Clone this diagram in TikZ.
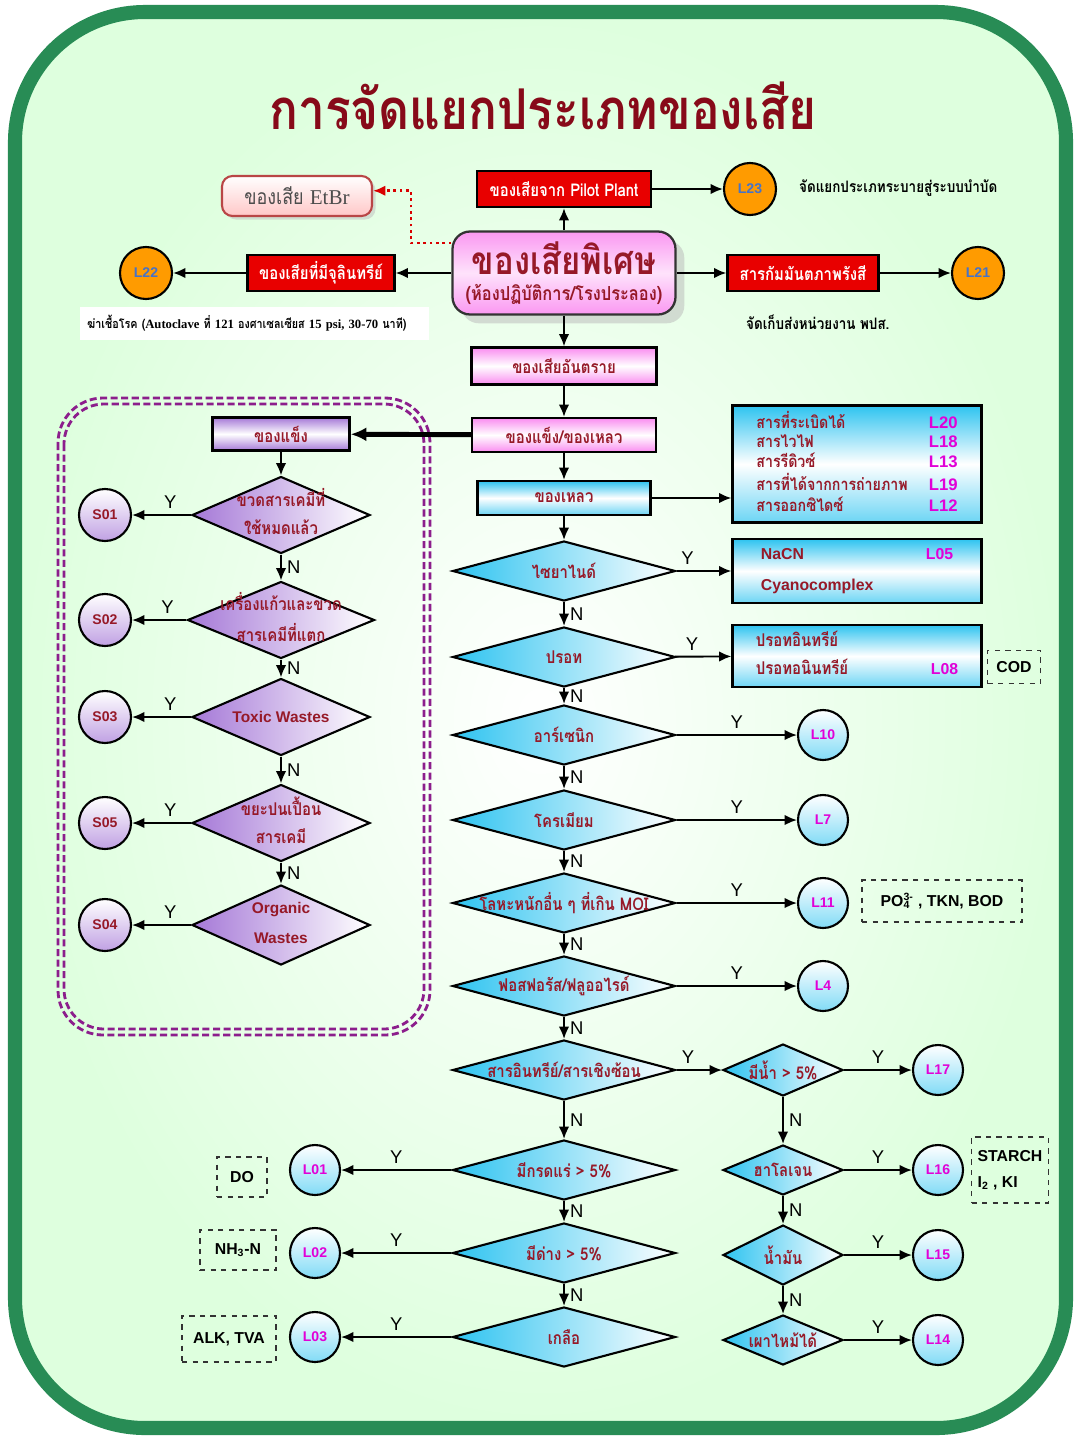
\documentclass[tikz,border=0pt]{standalone}
\usepackage{fontspec}
\setmainfont{Liberation Sans}
\newfontfamily\thai[Script=Thai,FakeStretch=0.85]{Loma}
\newfontfamily\timesf{Liberation Serif}
\usetikzlibrary{shapes.geometric,shadows,arrows.meta}

\definecolor{framegreen}{RGB}{40,140,85}
\definecolor{titlered}{RGB}{135,10,25}
\definecolor{txtred}{RGB}{150,25,40}
\definecolor{boxred}{RGB}{232,0,0}
\definecolor{liq}{RGB}{45,195,240}
\definecolor{sol}{RGB}{165,120,215}
\definecolor{pinkm}{RGB}{250,140,240}
\definecolor{codemag}{RGB}{225,0,215}
\definecolor{orng}{RGB}{255,155,0}
\definecolor{ltblue}{RGB}{70,115,200}
\definecolor{dashpurple}{RGB}{140,30,140}

\newcommand{\pxu}{0.02cm}
\newcommand{\dtext}[1]{\makebox[0pt]{#1}}
\newcommand{\lat}{\normalfont\bfseries}

\begin{document}
\begin{tikzpicture}[x=0.02cm,y=-0.02cm,>={Latex[length=7pt,width=6pt]},
  every node/.style={font=\thai\bfseries\fontsize{10}{12}\selectfont,text=txtred},
  arr/.style={->,line width=1.1pt},
  yn/.style={font=\fontsize{10.5}{12}\selectfont,text=black,inner sep=3pt},
  redbox/.style={draw=black,line width=1.3pt,fill=boxred,text=white,minimum height=36*\pxu},
  pinkbox/.style={draw=black,line width=1.3pt,top color=pinkm,bottom color=pinkm,middle color=white},
  bluebox/.style={draw=black,line width=1.3pt,top color=liq,bottom color=liq!70,middle color=white},
  purbox/.style={draw=black,line width=1.3pt,top color=sol,bottom color=sol,middle color=white},
  liqdia/.style={diamond,draw=black,line width=1.2pt,inner sep=0pt,left color=liq,right color=white,minimum width=223*\pxu,minimum height=60*\pxu},
  soldia/.style={diamond,draw=black,line width=1.2pt,inner sep=0pt,left color=sol,right color=white,minimum width=178*\pxu,minimum height=77*\pxu},
  lcirc/.style={circle,draw=black,line width=1.2pt,inner sep=0pt,minimum size=50*\pxu,top color=white,bottom color=liq!60,text=codemag,font=\bfseries\fontsize{8}{10}\selectfont},
  scirc/.style={circle,draw=black,line width=1.2pt,inner sep=0pt,minimum size=52*\pxu,top color=white,bottom color=sol!70,text=txtred,font=\bfseries\fontsize{8}{10}\selectfont},
  ocirc/.style={circle,draw=black,line width=1.2pt,inner sep=0pt,minimum size=52*\pxu,fill=orng,text=ltblue,font=\bfseries\fontsize{8}{10}\selectfont},
  dbox/.style={draw=black!80,dashed,line width=1pt,text=black,font=\bfseries\fontsize{9}{11}\selectfont},
  note/.style={text=black,font=\thai\bfseries\fontsize{9}{11}\selectfont,anchor=west}]

  \useasboundingbox (0,0) rectangle (1073,1437);
  \fill[white] (0,0) rectangle (1073,1437);
  \begin{scope}
    \clip (0,0) rectangle (1073,1437);
    \shade[inner color=white,outer color=green!13,rounded corners=2.6cm] (15,12) rectangle (1066,1428);
    \draw[framegreen,line width=8pt,rounded corners=2.6cm] (15,12) rectangle (1066,1428);
  \end{scope}
  \draw[dashpurple,line width=1.6pt,dash pattern=on 4pt off 2pt,rounded corners=0.9cm] (58,398) rectangle (430,1035);
  \draw[dashpurple,line width=1.6pt,dash pattern=on 4pt off 2pt,rounded corners=0.8cm] (64,404) rectangle (424,1029);

  \node[font=\thai\bfseries\fontsize{32}{36}\selectfont,text=titlered] (title) at (543,106) {การจัดแยกประเภทของเสีย};

  \node[draw=red!45!gray,line width=1.2pt,rounded corners=6pt,top color=white,bottom color=red!22,minimum width=150*\pxu,minimum height=40*\pxu,text=black!70,font=\thai\fontsize{12}{14}\selectfont,drop shadow={shadow xshift=2pt,shadow yshift=-2pt,fill=gray!50}] (etbr) at (297,196) {ของเสีย {\timesf EtBr}};
  \node[redbox,minimum width=174*\pxu] (pilot) at (564,189) {ของเสียจาก Pilot Plant};
  \node[ocirc] (l23) at (750,189) {L23};
  \node[note] (l23note) at (793,188) {จัดแยกประเภทระบายสู่ระบบบำบัด};
  \node[draw=black!80,line width=1.3pt,rounded corners=10pt,top color=pinkm!90,bottom color=pinkm!90,middle color=pinkm!25,minimum width=223*\pxu,minimum height=83*\pxu,align=center,drop shadow={shadow xshift=5pt,shadow yshift=-5pt,fill=gray!55}] (main) at (564,273) {{\fontsize{22}{24}\selectfont ของเสียพิเศษ}\\[3pt]{\fontsize{11}{13}\selectfont (ห้องปฏิบัติการ/โรงประลอง)}};
  \node[redbox,minimum width=147*\pxu] (micro) at (321,273) {ของเสียที่มีจุลินทรีย์};
  \node[ocirc] (l22) at (146,273) {L22};
  \node[fill=white,anchor=west,text width=6.7cm,align=left,minimum height=33*\pxu,inner xsep=0.14cm,text=black,font=\thai\bfseries\fontsize{7.2}{9}\selectfont] (autoclave) at (80,323) {ฆ่าเชื้อโรค ({\timesf\bfseries Autoclave} ที่ {\timesf\bfseries 121} องศาเซลเซียส {\timesf\bfseries 15 psi, 30-70} นาที)};
  \node[redbox,minimum width=151*\pxu] (radio) at (803,273) {สารกัมมันตภาพรังสี};
  \node[ocirc] (l21) at (978,273) {L21};
  \node[note] (radionote) at (740,322) {จัดเก็บส่งหน่วยงาน พปส.};

  \node[pinkbox,minimum width=185*\pxu,minimum height=37*\pxu] (haz) at (564,366) {ของเสียอันตราย};
  \node[pinkbox,minimum width=184*\pxu,minimum height=34*\pxu] (sl) at (564,435) {ของแข็ง/ของเหลว};
  \node[bluebox,minimum width=173*\pxu,minimum height=34*\pxu] (liquid) at (564,498) {ของเหลว};
  \node[bluebox,minimum width=249*\pxu,minimum height=113*\pxu] (reactive) at (857,464) {\fontsize{9.5}{10.8}\selectfont\begin{tabular}{@{}p{3.45cm}@{}l@{}}
    สารที่ระเบิดได้ & \textcolor{codemag}{\lat L20}\\
    สารไวไฟ & \textcolor{codemag}{\lat L18}\\
    สารรีดิวซ์ & \textcolor{codemag}{\lat L13}\\
    สารที่ได้จากการถ่ายภาพ & \textcolor{codemag}{\lat L19}\\
    สารออกซิไดซ์ & \textcolor{codemag}{\lat L12}
  \end{tabular}};
  \node[bluebox,minimum width=249*\pxu,minimum height=64*\pxu] (cnbox) at (857,571) {\fontsize{9}{11}\selectfont\begin{tabular}{@{}p{3.3cm}@{}l@{}}
    \lat NaCN & \textcolor{codemag}{\lat L05}\\[6.5pt]
    \lat Cyanocomplex &
  \end{tabular}};
  \node[bluebox,minimum width=249*\pxu,minimum height=62*\pxu] (hgbox) at (857,656) {\begin{tabular}{@{}p{3.5cm}@{}l@{}}
    ปรอทอินทรีย์ & \\[4pt]
    ปรอทอนินทรีย์ & \textcolor{codemag}{\lat\fontsize{9}{11}\selectfont L08}
  \end{tabular}};
  \node[dbox,minimum width=53*\pxu,minimum height=33*\pxu] (cod) at (1014,667) {COD};

  \node[liqdia] (cyanide) at (564,571) {\dtext{ไซยาไนด์}};
  \node[liqdia] (mercury) at (564,657) {\dtext{ปรอท}};
  \node[liqdia] (arsenic) at (564,735) {\dtext{อาร์เซนิก}};
  \node[lcirc] (l10) at (823,735) {L10};
  \node[liqdia] (chromium) at (564,820) {\dtext{โครเมียม}};
  \node[lcirc] (l7) at (823,820) {L7};
  \node[liqdia] (heavy) at (564,903) {\dtext{โลหะหนักอื่น ๆ ที่เกิน MOI}};
  \node[lcirc] (l11) at (823,903) {L11};
  \node[dbox,minimum width=160*\pxu,minimum height=42*\pxu] (po4) at (942,901) {PO\rlap{\textsubscript{4}}\textsuperscript{3-} , TKN, BOD};
  \node[liqdia] (phosph) at (564,986) {\dtext{ฟอสฟอรัส/ฟลูออไรด์}};
  \node[lcirc] (l4) at (823,986) {L4};
  \node[liqdia] (organic) at (564,1070) {\dtext{สารอินทรีย์/สารเชิงซ้อน}};
  \node[liqdia,minimum width=120*\pxu,minimum height=52*\pxu] (water) at (783,1070) {\dtext{มีน้ำ > 5\%}};
  \node[lcirc] (l17) at (938,1070) {L17};
  \node[liqdia] (acid) at (564,1170) {\dtext{มีกรดแร่ > 5\%}};
  \node[lcirc] (l01) at (315,1170) {L01};
  \node[dbox,minimum width=50*\pxu,minimum height=40*\pxu] (do) at (242,1177) {DO};
  \node[liqdia] (alkali) at (564,1253) {\dtext{มีด่าง > 5\%}};
  \node[lcirc] (l02) at (315,1253) {L02};
  \node[dbox,minimum width=76*\pxu,minimum height=40*\pxu] (nh3) at (238,1250) {NH\textsubscript{3}-N};
  \node[liqdia] (salt) at (564,1337) {\dtext{เกลือ}};
  \node[lcirc] (l03) at (315,1337) {L03};
  \node[dbox,minimum width=94*\pxu,minimum height=46*\pxu] (alk) at (229,1339) {ALK, TVA};
  \node[liqdia,minimum width=120*\pxu,minimum height=50*\pxu] (halogen) at (783,1170) {\dtext{ฮาโลเจน}};
  \node[lcirc] (l16) at (938,1170) {L16};
  \node[dbox,minimum width=77*\pxu,minimum height=66*\pxu,align=left] (starch) at (1010,1170) {STARCH\\[4pt]I\textsubscript{2} , KI};
  \node[liqdia,minimum width=120*\pxu,minimum height=60*\pxu] (oil) at (783,1255) {\dtext{น้ำมัน}};
  \node[lcirc] (l15) at (938,1255) {L15};
  \node[liqdia,minimum width=120*\pxu,minimum height=50*\pxu] (burn) at (783,1340) {\dtext{เผาไหม้ได้}};
  \node[lcirc] (l14) at (938,1340) {L14};

  \node[purbox,minimum width=137*\pxu,minimum height=33*\pxu] (solid) at (281,434) {ของแข็ง};
  \node[soldia] (bottles) at (281,515) {\dtext{\begin{tabular}{@{}c@{}}ขวดสารเคมีที่\\[4pt]ใช้หมดแล้ว\end{tabular}}};
  \node[scirc] (s01) at (105,515) {S01};
  \node[soldia,minimum width=187*\pxu] (glass) at (281,620) {\dtext{\begin{tabular}{@{}c@{}}เครื่องแก้วและขวด\\[4pt]สารเคมีที่แตก\end{tabular}}};
  \node[scirc] (s02) at (105,620) {S02};
  \node[soldia] (toxic) at (281,717) {\dtext{\lat\fontsize{8.8}{11}\selectfont Toxic Wastes}};
  \node[scirc] (s03) at (105,717) {S03};
  \node[soldia] (contam) at (281,823) {\dtext{\begin{tabular}{@{}c@{}}ขยะปนเปื้อน\\[4pt]สารเคมี\end{tabular}}};
  \node[scirc] (s05) at (105,823) {S05};
  \node[soldia,minimum height=80*\pxu] (orgw) at (281,925) {\dtext{\lat\fontsize{8.8}{11}\selectfont\begin{tabular}{@{}c@{}}Organic\\[6pt]Wastes\end{tabular}}};
  \node[scirc] (s04) at (105,925) {S04};

  \draw[arr] (main) -- (pilot);
  \draw[arr] (pilot) -- (l23);
  \draw[arr] (main) -- (micro);
  \draw[arr] (micro) -- (l22);
  \draw[arr] (main) -- (radio);
  \draw[arr] (radio) -- (l21);
  \coordinate (etbrturn) at (411,243);
  \draw[->,red!85!black,dotted,line width=1.6pt] (etbrturn -| main.west) -- (etbrturn) |- ([yshift=3pt]etbr.east);
  \draw[arr] (main) -- (haz);
  \draw[arr] (haz) -- (sl);
  \draw[->,line width=2.8pt,>={Latex[length=9pt,width=8pt]}] (sl) -- (solid);
  \draw[arr] (sl) -- (liquid);
  \draw[arr] (liquid.east) -- (liquid.east -| reactive.west);
  \draw[arr] (liquid) -- (cyanide);

  \draw[arr] (cyanide) -- (cnbox) node[yn,pos=.2,above] (ycn) {Y};
  \draw[arr] (cyanide) -- (mercury) node[yn,midway,right] (ncn) {N};
  \draw[arr] (mercury) -- (hgbox) node[yn,pos=.3,above] (yhg) {Y};
  \draw[arr] (mercury) -- (arsenic) node[yn,midway,right] (nhg) {N};
  \draw[arr] (arsenic) -- (l10) node[yn,midway,above] (yas) {Y};
  \draw[arr] (arsenic) -- (chromium) node[yn,midway,right] (nas) {N};
  \draw[arr] (chromium) -- (l7) node[yn,midway,above] (ycr) {Y};
  \draw[arr] (chromium) -- (heavy) node[yn,midway,right] (ncr) {N};
  \draw[arr] (heavy) -- (l11) node[yn,midway,above] (yhv) {Y};
  \draw[arr] (heavy) -- (phosph) node[yn,midway,right] (nhv) {N};
  \draw[arr] (phosph) -- (l4) node[yn,midway,above] (yph) {Y};
  \draw[arr] (phosph) -- (organic) node[yn,midway,right] (nph) {N};
  \draw[arr] (organic) -- (water) node[yn,pos=.25,above] (yor) {Y};
  \draw[arr] (organic) -- (acid) node[yn,midway,right] (nor) {N};
  \draw[arr] (water) -- (l17) node[yn,midway,above] (ywa) {Y};
  \draw[arr] (water) -- (halogen) node[yn,midway,right] (nwa) {N};
  \draw[arr] (halogen) -- (l16) node[yn,midway,above] (yha) {Y};
  \draw[arr] (halogen) -- (oil) node[yn,midway,right] (nha) {N};
  \draw[arr] (oil) -- (l15) node[yn,midway,above] (yoi) {Y};
  \draw[arr] (oil) -- (burn) node[yn,midway,right] (noi) {N};
  \draw[arr] (burn) -- (l14) node[yn,midway,above] (ybu) {Y};
  \draw[arr] (acid) -- (l01) node[yn,midway,above] (yac) {Y};
  \draw[arr] (acid) -- (alkali) node[yn,midway,right] (nac) {N};
  \draw[arr] (alkali) -- (l02) node[yn,midway,above] (yal) {Y};
  \draw[arr] (alkali) -- (salt) node[yn,midway,right] (nal) {N};
  \draw[arr] (salt) -- (l03) node[yn,midway,above] (ysa) {Y};

  \draw[arr] (solid) -- (bottles);
  \draw[arr] (bottles) -- (s01) node[yn,pos=.35,above] (ybo) {Y};
  \draw[arr] (bottles) -- (glass) node[yn,midway,right] (nbo) {N};
  \draw[arr] (glass) -- (s02) node[yn,pos=.35,above] (ygl) {Y};
  \draw[arr] (glass) -- (toxic) node[yn,midway,right] (ngl) {N};
  \draw[arr] (toxic) -- (s03) node[yn,pos=.35,above] (yto) {Y};
  \draw[arr] (toxic) -- (contam) node[yn,midway,right] (nto) {N};
  \draw[arr] (contam) -- (s05) node[yn,pos=.35,above] (yco) {Y};
  \draw[arr] (contam) -- (orgw) node[yn,midway,right] (nco) {N};
  \draw[arr] (orgw) -- (s04) node[yn,pos=.35,above] (yow) {Y};
\end{tikzpicture}
\end{document}
